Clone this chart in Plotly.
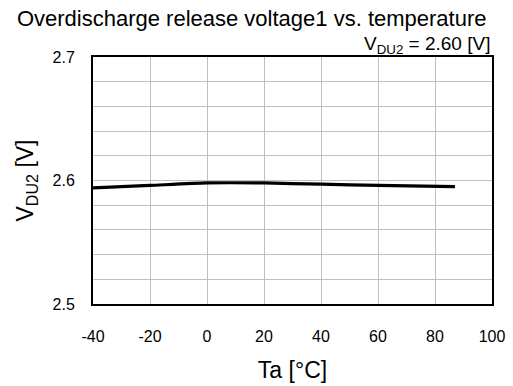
import plotly.graph_objects as go

temps = [-40, -20, 0, 20, 40, 60, 87]
volts = [2.594, 2.596, 2.598, 2.598, 2.597, 2.596, 2.595]

x_ticks = [-40, -20, 0, 20, 40, 60, 80, 100]
y_ticks = [2.5, 2.6, 2.7]

FONT = "Arial, Liberation Sans, sans-serif"

fig = go.Figure()
fig.add_trace(go.Scatter(x=temps, y=volts, mode="lines",
                         line=dict(color="black", width=3.2, shape="spline", smoothing=0.6),
                         showlegend=False))

fig.update_layout(
    width=513, height=386,
    margin=dict(l=93, r=21, t=57, b=82),
    paper_bgcolor="white", plot_bgcolor="white",
    font=dict(family=FONT, color="black"),
    title=dict(text="Overdischarge release voltage1 vs. temperature",
               x=0.033, xanchor="left", y=0.952, yanchor="middle",
               font=dict(size=22, family=FONT)),
    annotations=[dict(text="V<sub>DU2</sub> = 2.60 [V]", xref="paper", yref="paper",
                      x=1.0, xanchor="right", y=1.0, yanchor="bottom", yshift=-2,
                      showarrow=False, font=dict(size=19, family=FONT))],
)

fig.update_xaxes(range=[-40, 100], tickvals=x_ticks, ticktext=[str(v) for v in x_ticks],
                 showgrid=True, gridcolor="#c0c0c0", gridwidth=1,
                 showline=True, linecolor="black", linewidth=2, mirror=True,
                 ticks="outside", ticklen=17, tickcolor="rgba(0,0,0,0)",
                 tickfont=dict(size=16), zeroline=False, automargin=False,
                 title=dict(text="Ta [°C]", font=dict(size=23), standoff=18))

fig.update_yaxes(range=[2.5, 2.7], tickvals=y_ticks, ticktext=["2.5", "2.6", "2.7"],
                 showgrid=True, gridcolor="#c0c0c0", gridwidth=1,
                 minor=dict(dtick=0.02, tick0=2.5, showgrid=True, gridcolor="#c0c0c0", gridwidth=1),
                 showline=True, linecolor="black", linewidth=2, mirror=True,
                 ticks="outside", ticklen=13, tickcolor="rgba(0,0,0,0)",
                 tickfont=dict(size=16), zeroline=False, automargin=False,
                 title=dict(text="V<sub>DU2</sub> [V]", font=dict(size=23), standoff=12))

fig.write_html("out.html")
